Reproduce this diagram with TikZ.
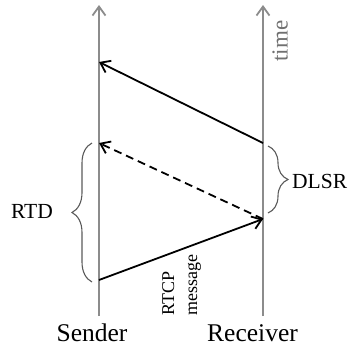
\documentclass[tikz,border=0pt]{standalone}
\usepackage{fontspec}
\setmainfont{Liberation Serif}
\usetikzlibrary{arrows.meta,decorations.pathreplacing}
\definecolor{axisgray}{HTML}{8C8C8C}
\definecolor{labelgray}{HTML}{707070}
\definecolor{bracegray}{HTML}{5A5A5A}
\begin{document}
\begin{tikzpicture}[x=1pt,y=-1pt,
  timeline/.style={draw=axisgray,line width=1.8pt,
    -{Straight Barb[length=9pt,width=13pt,line width=1.8pt]}},
  msg/.style={draw=black,line width=1.8pt,
    -{Straight Barb[length=9pt,width=13pt,line width=1.8pt]}},
  msgdash/.style={msg,dash pattern=on 8pt off 5pt},
  intervalbrace/.style={draw=bracegray,line width=1.1pt,
    decorate,decoration={brace,amplitude=20pt,aspect=0.5}},
  endlabel/.style={font=\fontsize{25.5}{28}\selectfont,inner sep=0pt,anchor=base},
  spanlabel/.style={font=\fontsize{21.5}{24}\selectfont,inner sep=0pt}]
  \useasboundingbox (0,0) rectangle (349,349);

  % time lines of the two endpoints
  \coordinate (sbot) at (99,316);
  \coordinate (stop) at (99,5);
  \coordinate (rbot) at (263,316);
  \coordinate (rtop) at (263,5);
  \draw[timeline] (sbot) -- (stop);
  \draw[timeline] (rbot) -- (rtop);

  % event points on the time lines
  \coordinate (s1) at (99,62);
  \coordinate (s2) at (99,143);
  \coordinate (s3) at (99,280);
  \coordinate (r1) at (263,143);
  \coordinate (r2) at (263,219);

  % messages
  \draw[msg] (s3) -- (r2);
  \draw[msgdash] (r2) -- (s2);
  \draw[msg] (r1) -- (s1);

  % endpoint names
  \node[endlabel] (sender) at (92,341) {Sender};
  \node[endlabel] (receiver) at (252.5,341) {Receiver};

  % time axis label
  \node[rotate=90,inner sep=0pt,text=labelgray,
        font=\fontsize{23}{26}\selectfont] (time) at (280,41) {time};

  % message label
  \node[rotate=90,inner sep=0pt,anchor=north west,align=left,
        font=\fontsize{18}{23}\selectfont] (rtcp) at (162,316) {RTCP\\message};

  % intervals
  \coordinate (bl1) at (92,282);
  \coordinate (bl2) at (92,143);
  \coordinate (br1) at (268,146);
  \coordinate (br2) at (268,213);
  \draw[intervalbrace] (bl1) -- (bl2);
  \draw[intervalbrace] (br1) -- (br2);
  \node[spanlabel,anchor=east] (rtd) at (53,211) {RTD};
  \node[spanlabel,anchor=west] (dlsr) at (292,181) {DLSR};
\end{tikzpicture}
\end{document}
